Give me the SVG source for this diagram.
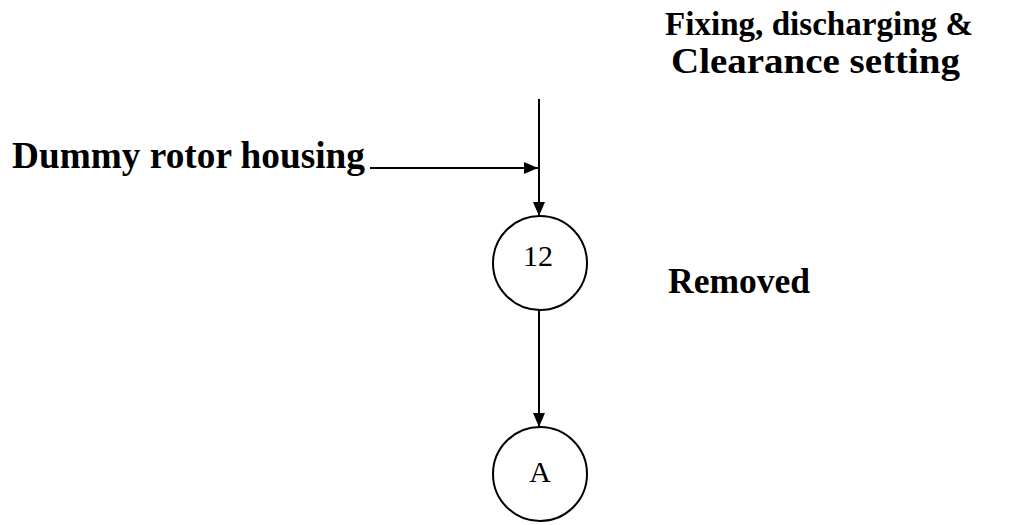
<svg xmlns="http://www.w3.org/2000/svg" width="1019" height="525" viewBox="0 0 1019 525">
  <style>
    .label { font-family: "Liberation Serif", "Times New Roman", serif; font-weight: bold; fill: #000; }
    .node circle { fill: #fff; stroke: #000; stroke-width: 2; }
    .node text { font-family: "Liberation Serif", "Times New Roman", serif; font-size: 30px; fill: #000; text-anchor: middle; }
    .edge { stroke: #000; stroke-width: 2; fill: none; }
  </style>
  <defs>
    <marker id="arrow" markerWidth="14" markerHeight="12" refX="14" refY="6" orient="auto" markerUnits="userSpaceOnUse">
      <path d="M0,0 L14,6 L0,12 Z" fill="#000"/>
    </marker>
  </defs>
  <rect width="1019" height="525" fill="#fff"/>

  <g id="connectors">
    <line class="edge" x1="539" y1="99" x2="539" y2="216" marker-end="url(#arrow)"/>
    <line class="edge" x1="370" y1="168" x2="538" y2="168" marker-end="url(#arrow)"/>
    <line class="edge" x1="539" y1="310" x2="539" y2="427" marker-end="url(#arrow)"/>
  </g>

  <g id="node-12" class="node">
    <circle cx="540" cy="263" r="47"/>
    <text x="538" y="266">12</text>
  </g>

  <g id="node-A" class="node">
    <circle cx="540" cy="474" r="47"/>
    <text x="540" y="482">A</text>
  </g>

  <g id="labels">
    <text class="label" x="665" y="35" font-size="33" textLength="308" lengthAdjust="spacingAndGlyphs">Fixing, discharging &amp;</text>
    <text class="label" x="671" y="73" font-size="36" textLength="289" lengthAdjust="spacingAndGlyphs">Clearance setting</text>
    <text class="label" x="12" y="168" font-size="37" textLength="353" lengthAdjust="spacingAndGlyphs">Dummy rotor housing</text>
    <text class="label" x="668" y="293" font-size="35" textLength="142" lengthAdjust="spacingAndGlyphs">Removed</text>
  </g>
</svg>
